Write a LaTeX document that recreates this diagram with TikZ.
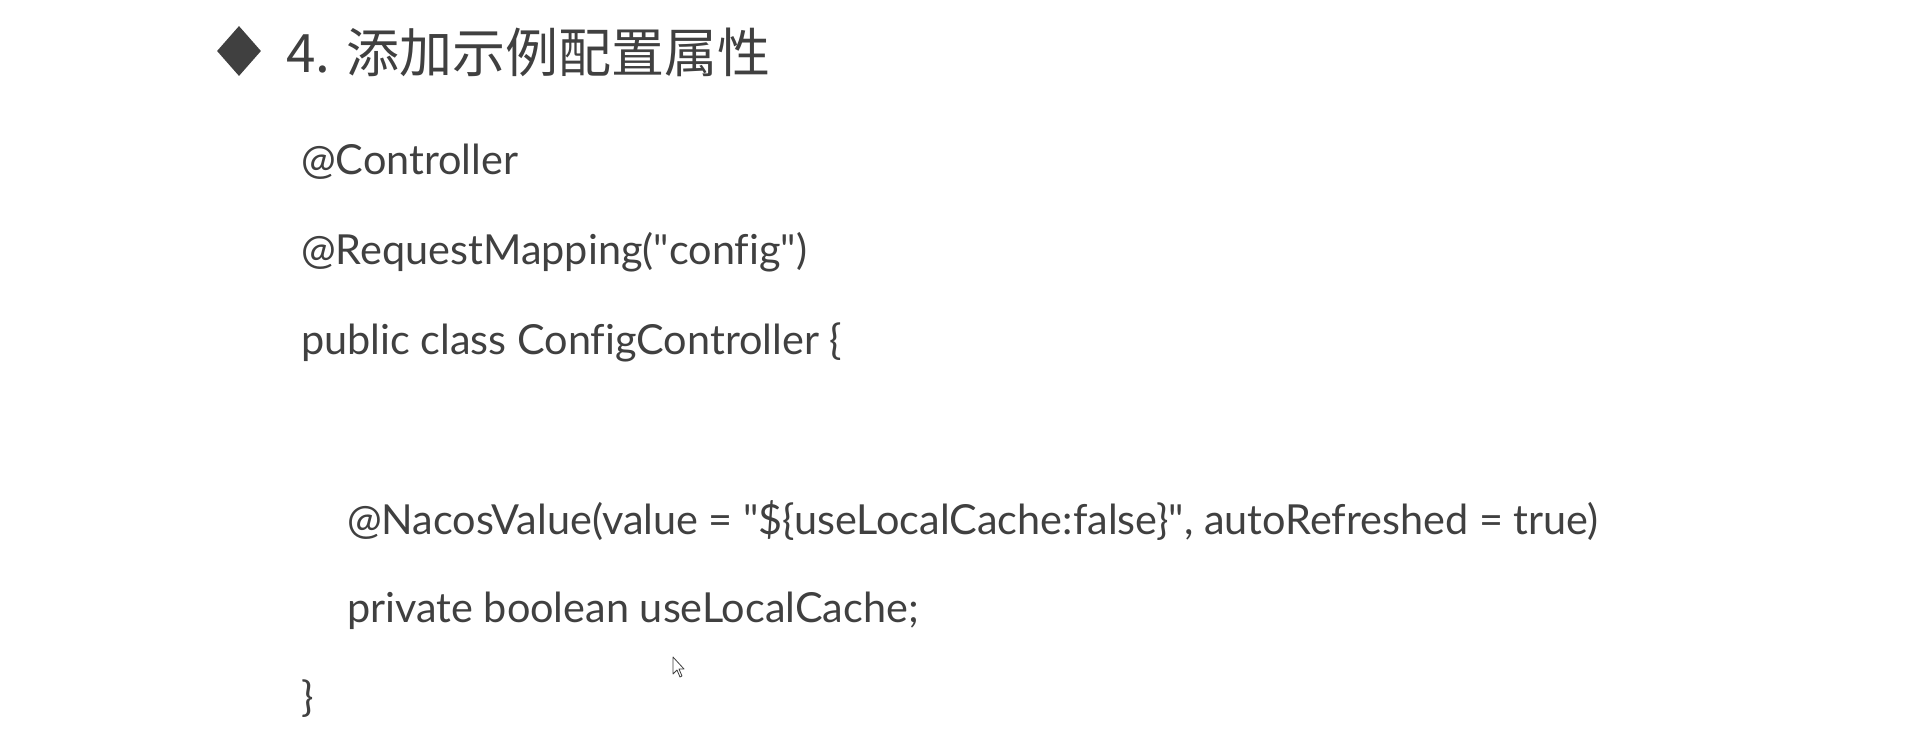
\documentclass[tikz,border=0pt]{standalone}
\usepackage{fontspec}
\setmainfont{Lato}[Ligatures={NoCommon}]
\newfontfamily\cjk{Noto Sans CJK SC}
\usetikzlibrary{shapes.geometric}
\definecolor{textgray}{HTML}{404040}
\tikzset{
  codeline/.style={anchor=base west, inner sep=0pt, text=textgray,
    font=\fontsize{41.4}{48}\selectfont},
  headline/.style={anchor=base west, inner sep=0pt, text=textgray,
    font=\cjk\fontsize{53}{60}\selectfont}
}
\newcommand\qq{\textquotedbl}
\begin{document}
\begin{tikzpicture}[x=1pt,y=-1pt]
\useasboundingbox[fill=white] (0,0) rectangle (1920,734);

% heading
\node[diamond, fill=textgray, inner sep=0pt, minimum width=44pt, minimum height=50pt] (bullet) at (239,51) {};
\node[headline] (title) at (286,72) {4. 添加示例配置属性};

% code
\node[codeline] (ctrl) at (301,174) {@Controller};
\node[codeline] (mapping) at (301,264) {@RequestMapping(\qq config\qq)};
\node[codeline] (class) at (301,354) {public class ConfigController \{};
\node[codeline] (value) at (347,534) {@NacosValue(value = \qq\$\{useLocalCache:false\}\qq, autoRefreshed = true)};
\node[codeline] (field) at (347,622) {private boolean useLocalCache;};
\node[codeline] (close) at (301,711) {\}};

% mouse pointer
\draw[textgray, fill=white, line width=0.8pt, line join=round, shift={(673,657)}]
  (0,0) -- (0,17) -- (4,13) -- (7,20) -- (9,19) -- (6,12) -- (11,12) -- cycle;
\end{tikzpicture}
\end{document}
